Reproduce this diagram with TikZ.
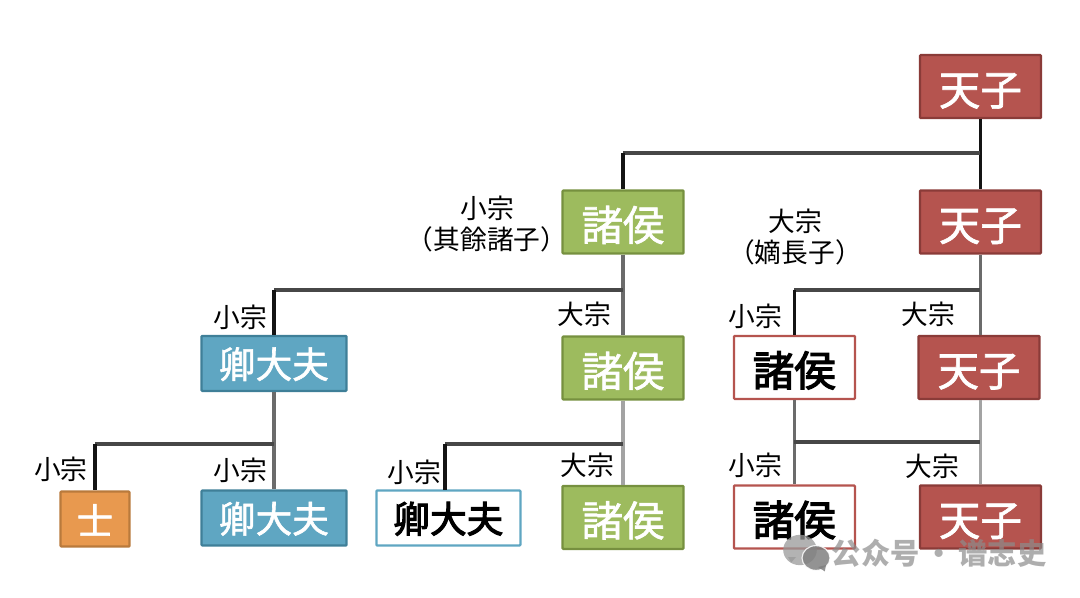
\documentclass[tikz,border=0pt]{standalone}
\usepackage{fontspec}
\newfontfamily\cjk{Noto Sans CJK JP}
\newfontfamily\cjkmed[FakeBold=1.6]{Noto Sans CJK JP}
\newfontfamily\cjkhvy[FakeBold=3]{Noto Sans CJK JP}
\newfontfamily\cjkhalt[RawFeature=+halt]{Noto Sans CJK JP}
\newfontfamily\cjksc{Noto Sans CJK SC}
\definecolor{tzfill}{HTML}{B5544F}
\definecolor{tzedge}{HTML}{8A3B38}
\definecolor{zhfill}{HTML}{9DBB5E}
\definecolor{zhedge}{HTML}{76903F}
\definecolor{qdfill}{HTML}{5FA6C2}
\definecolor{qdedge}{HTML}{3F7F98}
\definecolor{shfill}{HTML}{E8994F}
\definecolor{shedge}{HTML}{B97A3C}
\tikzset{
  basebox/.style={draw, line width=1.6pt, rounded corners=0.6pt, inner sep=0pt, minimum height=1.575cm, text height=29pt, font=\cjkmed\fontsize{29.5}{29.5}\selectfont},
  tzbox/.style={basebox, fill=tzfill, draw=tzedge, text=white, minimum width=3.025cm},
  zhbox/.style={basebox, fill=zhfill, draw=zhedge, text=white, minimum width=3.025cm},
  qdbox/.style={basebox, fill=qdfill, draw=qdedge, text=white, minimum width=3.625cm, minimum height=1.375cm, text height=23pt, font=\cjkmed\fontsize{26}{26}\selectfont},
  shbox/.style={basebox, fill=shfill, draw=shedge, text=white, minimum width=1.725cm, minimum height=1.375cm, text height=23pt, font=\cjkmed\fontsize{26}{26}\selectfont},
  zhwhite/.style={basebox, fill=white, draw=tzfill, text=black, minimum width=3.025cm, font=\cjkhvy\fontsize{29.5}{29.5}\selectfont},
  qdwhite/.style={basebox, fill=white, draw=qdfill, text=black, minimum width=3.6cm, minimum height=1.375cm, text height=23pt, font=\cjkhvy\fontsize{26}{26}\selectfont},
  zonglabel/.style={inner sep=0pt, align=center, font=\cjk\fontsize{19}{22.5}\selectfont},
  linedark/.style={draw=black!92, line width=2.6pt},
  linemid/.style={draw=black!58, line width=2.6pt},
  linelight/.style={draw=black!36, line width=2.6pt},
  linesplit/.style={draw=black!72, line width=2.2pt},
}
\begin{document}
\begin{tikzpicture}
  \useasboundingbox (0.000,0.000) rectangle (27.000,14.925);
  % boxes
  \node[tzbox] (tz1) at (24.510,12.760) {天子};
  \node[tzbox] (tz2) at (24.510,9.375) {天子};
  \node[zhbox] (zh1) at (15.575,9.375) {諸侯};
  \node[qdbox] (qd1) at (6.850,5.840) {卿大夫};
  \node[zhbox] (zh2) at (15.575,5.725) {諸侯};
  \node[zhwhite] (zw1) at (19.860,5.740) {諸侯};
  \node[tzbox] (tz3) at (24.475,5.740) {天子};
  \node[shbox] (sh1) at (2.375,1.950) {士};
  \node[qdbox] (qd2) at (6.850,1.975) {卿大夫};
  \node[qdwhite] (qw1) at (11.210,1.975) {卿大夫};
  \node[zhbox] (zh3) at (15.575,1.990) {諸侯};
  \node[zhwhite] (zw2) at (19.860,2.000) {諸侯};
  \node[tzbox] (tz4) at (24.510,2.000) {天子};
  % branch points
  \coordinate (splitA) at (24.510,11.100);
  \coordinate (splitB) at (15.575,7.675);
  \coordinate (splitC) at (24.510,7.675);
  \coordinate (splitD) at (6.850,3.825);
  \coordinate (splitE) at (15.575,3.825);
  \coordinate (splitF) at (19.860,3.875);
  \coordinate (qwtop) at (11.125,2.675);
  % connectors
  \draw[linedark] (tz1.south) -- (tz2.north);
  \draw[linesplit] (splitA) -- (splitA -| zh1.north);
  \draw[linedark] (splitA -| zh1.north) -- (zh1.north);
  \draw[linemid] (zh1.south) -- (zh2.north);
  \draw[linesplit] (splitB) -- (splitB -| qd1.north);
  \draw[linedark] (splitB -| qd1.north) -- (qd1.north);
  \draw[linemid] (tz2.south) -- (tz3.north -| tz2.south);
  \draw[linesplit] (splitC) -- (splitC -| zw1.north);
  \draw[linedark] (splitC -| zw1.north) -- (zw1.north);
  \draw[linemid] (qd1.south) -- (qd2.north);
  \draw[linesplit] (splitD) -- (splitD -| sh1.north);
  \draw[linedark] (splitD -| sh1.north) -- (sh1.north);
  \draw[linelight] (zh2.south) -- (zh3.north);
  \draw[linesplit] (splitE) -- (splitE -| qwtop);
  \draw[linedark] (splitE -| qwtop) -- (qwtop);
  \draw[linemid] (zw1.south) -- (zw2.north);
  \draw[linelight] (tz3.south -| tz4.north) -- (tz4.north);
  \draw[linesplit] (splitF) -- (splitF -| tz4.north);
  % labels
  \node[zonglabel] (lb1) at (12.175,9.325) {小宗\\{\cjkhalt （}其餘諸子{\cjkhalt ）}};
  \node[zonglabel] (lb2) at (19.875,9.000) {大宗\\{\cjkhalt （}嫡長子{\cjkhalt ）}};
  \node[zonglabel] (lb3) at (6.000,7.000) {小宗};
  \node[zonglabel] (lb4) at (14.600,7.075) {大宗};
  \node[zonglabel] (lb5) at (18.875,7.025) {小宗};
  \node[zonglabel] (lb6) at (23.200,7.075) {大宗};
  \node[zonglabel] (lb7) at (1.525,3.200) {小宗};
  \node[zonglabel] (lb8) at (6.000,3.175) {小宗};
  \node[zonglabel] (lb9) at (10.350,3.125) {小宗};
  \node[zonglabel] (lb10) at (14.675,3.300) {大宗};
  \node[zonglabel] (lb11) at (18.875,3.300) {小宗};
  \node[zonglabel] (lb12) at (23.300,3.275) {大宗};
  % mark
  \fill[black!40, opacity=0.75] (20.000,1.175) ellipse (0.420 and 0.380);
  \fill[black!40, opacity=0.75] (19.780,0.860) -- (19.900,1.000) -- (19.700,1.000) -- cycle;
  \draw[white, fill=black!50, opacity=0.85, line width=0.8pt] (20.400,0.975) ellipse (0.350 and 0.310);
  \fill[black!50, opacity=0.85] (20.620,0.640) -- (20.650,0.800) -- (20.450,0.750) -- cycle;
  \node[inner sep=0pt, text=black!45, opacity=0.7, font=\cjksc\bfseries\fontsize{20.8}{21}\selectfont] (mark) at (23.480,1.100) {公众号\,·\,谱志史};
\end{tikzpicture}
\end{document}
